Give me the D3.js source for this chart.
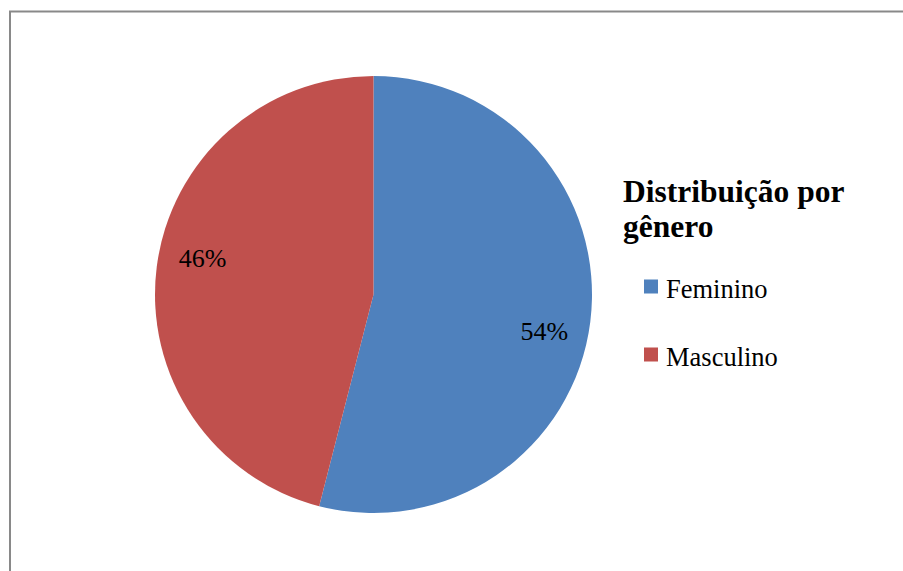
<!DOCTYPE html>
<html><head><meta charset="utf-8">
<script src="https://cdn.jsdelivr.net/npm/d3@7"></script>
<style>html,body{margin:0;padding:0;background:#fff;}svg{display:block;}
text{font-family:'Liberation Serif','Times New Roman','DejaVu Serif',serif;}</style>
</head><body>
<svg id="chart" width="903" height="571"></svg>
<script>
const categories = ["Feminino", "Masculino"];
const values = [54, 46];
const labels = ["54%", "46%"];
const colors = ["#4F81BD", "#C0504D"];
const titleLines = ["Distribuição por", "gênero"];

const svg = d3.select("#chart");
svg.append("rect").attr("x", 10).attr("y", 11.5).attr("width", 903).attr("height", 580)
  .attr("fill", "#fff").attr("stroke", "#898989").attr("stroke-width", 2);

const cx = 373.5, cy = 294.5, r = 218.5;
const pie = d3.pie().sort(null).value(d => d)(values);
const arc = d3.arc().innerRadius(0).outerRadius(r);
const g = svg.append("g").attr("transform", `translate(${cx},${cy})`);
g.selectAll("path").data(pie).enter().append("path")
  .attr("d", arc).attr("fill", (d, i) => colors[i]);

const labelArc = d3.arc().innerRadius(r * 0.8).outerRadius(r * 0.8)
  .startAngle(d => d.startAngle + 0.085).endAngle(d => d.endAngle + 0.085);
g.selectAll("text").data(pie).enter().append("text")
  .attr("transform", d => `translate(${labelArc.centroid(d)})`)
  .attr("text-anchor", "middle").attr("dy", "0.33em")
  .attr("font-size", 26)
  .attr("fill", "#000").text((d, i) => labels[i]);

const leg = svg.append("g");
leg.selectAll("text.t").data(titleLines).enter().append("text")
  .attr("x", 623).attr("y", (d, i) => 202 + i * 35)
  .attr("font-weight", "bold")
  .attr("font-size", 31.5).attr("fill", "#000").text(d => d);
const items = leg.selectAll("g.item").data(categories).enter().append("g")
  .attr("transform", (d, i) => `translate(644,${279.5 + i * 68})`);
items.append("rect").attr("width", 14).attr("height", 14).attr("fill", (d, i) => colors[i]);
items.append("text").attr("x", 22).attr("y", 18)
  .attr("font-size", 26.5)
  .attr("fill", "#000").text(d => d);
</script>
</body></html>
